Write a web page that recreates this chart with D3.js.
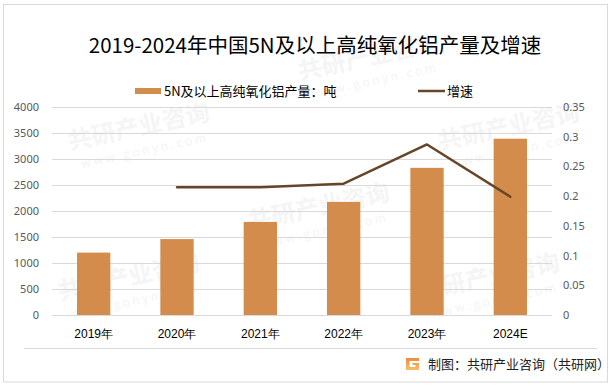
<!DOCTYPE html>
<html><head><meta charset="utf-8">
<script src="https://cdn.jsdelivr.net/npm/d3@7"></script>
<style>html,body{margin:0;padding:0;background:#fff;}svg{display:block;font-family:"Noto Sans CJK SC","Noto Sans",sans-serif;}</style>
</head><body><svg id="c" width="614" height="388"></svg>
<script>
const categories = ["2019年","2020年","2021年","2022年","2023年","2024E"];
const production = [1200, 1460, 1790, 2175, 2830, 3390];
const growth = [null, 0.215, 0.215, 0.221, 0.287, 0.199];
const leftTicks = [0,500,1000,1500,2000,2500,3000,3500,4000];
const rightTicks = [0,0.05,0.1,0.15,0.2,0.25,0.3,0.35];
const title = "2019-2024年中国5N及以上高纯氧化铝产量及增速";
const seriesNames = ["5N及以上高纯氧化铝产量：吨","增速"];
const source = "制图：共研产业咨询（共研网）";

const svg = d3.select("#c");
const m = {left:52, right:552, top:107, bottom:315};

// faint watermarks (kept inside frame)
const wm = svg.append("g");
const wmPos = [[70,150],[300,80],[250,230],[60,300],[420,300],[440,150]];
wmPos.forEach(([x,y])=>{
  const g = wm.append("g").attr("transform",`translate(${x},${y}) rotate(-12)`);
  g.append("text").text("共研产业咨询").attr("font-size",24).attr("font-weight","bold").attr("fill","#f5f5f5");
  g.append("text").text("w w w . g o n y n . c o m").attr("y",20).attr("x",8).attr("font-size",12).attr("fill","#f4f4f4");
});

// frame
svg.append("rect").attr("x",3.5).attr("y",4.5).attr("width",604).attr("height",377.5).attr("fill","none").attr("stroke","#d9d9d9");
svg.append("line").attr("x1",24).attr("x2",597).attr("y1",348.5).attr("y2",348.5).attr("stroke","#d9d9d9");

const x = d3.scaleBand().domain(categories).range([m.left,m.right]).paddingInner(0.6).paddingOuter(0.3);
const yL = d3.scaleLinear().domain([0,4000]).range([m.bottom,m.top]);
const yR = d3.scaleLinear().domain([0,0.35]).range([m.bottom,m.top]);

// grid
svg.append("g").selectAll("line").data(leftTicks).join("line")
  .attr("x1",m.left).attr("x2",m.right)
  .attr("y1",d=>Math.round(yL(d))+0.5).attr("y2",d=>Math.round(yL(d))+0.5)
  .attr("stroke","#d9d9d9").attr("stroke-width",1);

// left axis
const ax = d3.axisLeft(yL).tickValues(leftTicks).tickSize(0).tickPadding(0).tickFormat(d3.format("d"));
const gl = svg.append("g").attr("transform",`translate(39,0)`).call(ax);
gl.select(".domain").remove();
gl.selectAll("text").attr("fill","#595959").attr("font-size",11).attr("font-family","'Noto Sans',sans-serif");

// right axis
const axr = d3.axisRight(yR).tickValues(rightTicks).tickSize(0).tickPadding(0).tickFormat(d=>String(+d.toFixed(2)));
const gr = svg.append("g").attr("transform",`translate(563,0)`).call(axr);
gr.select(".domain").remove();
gr.selectAll("text").attr("fill","#595959").attr("font-size",11).attr("font-family","'Noto Sans',sans-serif");

// bars
svg.append("g").selectAll("rect").data(production).join("rect")
  .attr("x",(d,i)=>x(categories[i])).attr("width",x.bandwidth())
  .attr("y",d=>yL(d)).attr("height",d=>yL(0)-yL(d)).attr("fill","#D38C4C");

// line
const pts = growth.map((v,i)=>({v,c:categories[i]})).filter(d=>d.v!=null);
svg.append("path").datum(pts)
  .attr("d",d3.line().x(d=>x(d.c)+x.bandwidth()/2).y(d=>yR(d.v)))
  .attr("fill","none").attr("stroke","#654629").attr("stroke-width",2.5).attr("stroke-linejoin","round").attr("stroke-linecap","round");

// x labels
const xa = d3.axisBottom(x).tickSize(0).tickPadding(0);
const gx = svg.append("g").attr("transform",`translate(0,329)`).call(xa);
gx.select(".domain").remove();
gx.selectAll("text").attr("fill","#000").attr("font-size",12).attr("dy","0.71em");

// title
svg.append("text").attr("x",315).attr("y",53).attr("text-anchor","middle")
  .attr("font-size",20.5).attr("fill","#000").text(title);

// legend
svg.append("rect").attr("x",135).attr("y",88).attr("width",26).attr("height",6).attr("fill","#D38C4C");
svg.append("text").attr("x",164).attr("y",96).attr("font-size",13).attr("fill","#000").text(seriesNames[0]);
svg.append("line").attr("x1",418).attr("x2",445).attr("y1",91).attr("y2",91).attr("stroke","#654629").attr("stroke-width",2.5);
svg.append("text").attr("x",447).attr("y",96).attr("font-size",13).attr("fill","#000").text(seriesNames[1]);

// footer logo
const lg = svg.append("g").attr("transform","translate(406,358)");
const grad = svg.append("defs").append("linearGradient").attr("id","lgG").attr("x1",0).attr("y1",0).attr("x2",0).attr("y2",1);
grad.append("stop").attr("offset","0%").attr("stop-color","#f08a3c");
grad.append("stop").attr("offset","100%").attr("stop-color","#f5c067");
lg.append("path").attr("d","M0,0 H13 V3 H3.5 V9 H9.5 V7 H6.5 V5 H13 V12 H0 Z").attr("fill","url(#lgG)");
svg.append("text").attr("x",428).attr("y",369).attr("font-size",13).attr("fill","#222").text(source);
</script></body></html>
